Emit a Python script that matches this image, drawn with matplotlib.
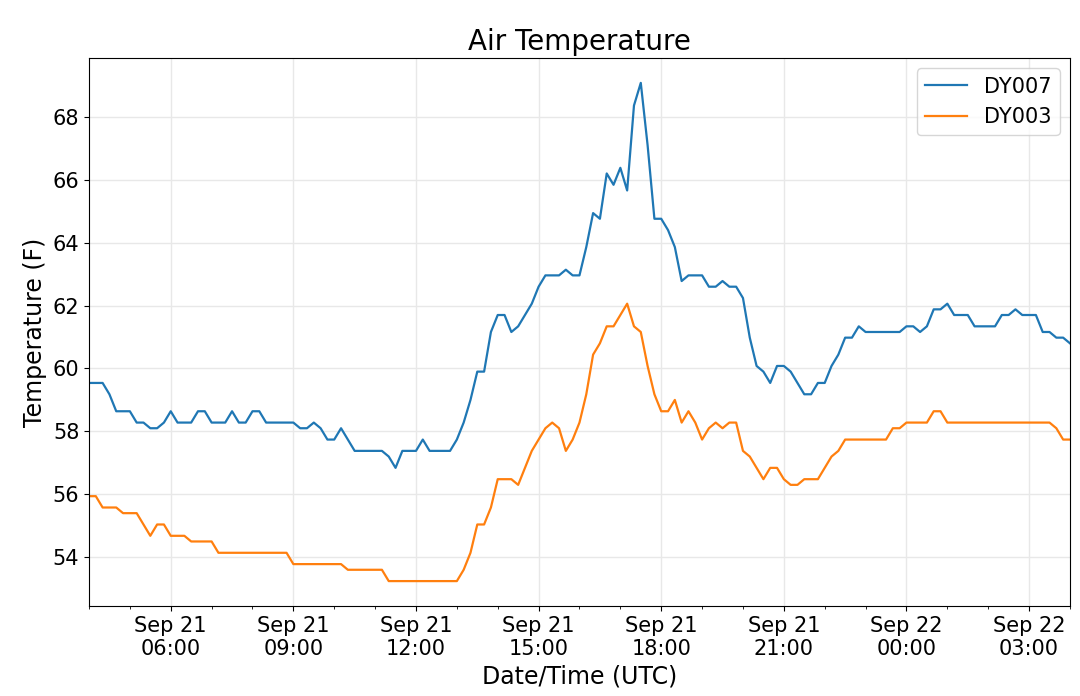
import matplotlib
matplotlib.use("Agg")
import matplotlib.pyplot as plt
import matplotlib.dates as mdates
import pandas as pd

# 10 minute readings, Sep 21 04:00 UTC .. Sep 22 04:00 UTC
times = pd.date_range("2019-09-21 04:00", periods=145, freq="10min")

dy007 = [
    59.54, 59.54, 59.54, 59.18, 58.64, 58.64, 58.64, 58.28, 58.28, 58.10,  # 0
    58.10, 58.28, 58.64, 58.28, 58.28, 58.28, 58.64, 58.64, 58.28, 58.28,  # 10
    58.28, 58.64, 58.28, 58.28, 58.64, 58.64, 58.28, 58.28, 58.28, 58.28,  # 20
    58.28, 58.10, 58.10, 58.28, 58.10, 57.74, 57.74, 58.10, 57.74, 57.38,  # 30
    57.38, 57.38, 57.38, 57.38, 57.20, 56.84, 57.38, 57.38, 57.38, 57.74,  # 40
    57.38, 57.38, 57.38, 57.38, 57.74, 58.28, 59.00, 59.90, 59.90, 61.16,  # 50
    61.70, 61.70, 61.16, 61.34, 61.70, 62.06, 62.60, 62.96, 62.96, 62.96,  # 60
    63.14, 62.96, 62.96, 63.86, 64.94, 64.76, 66.20, 65.84, 66.38, 65.66,  # 70
    68.36, 69.08, 67.10, 64.76, 64.76, 64.40, 63.86, 62.78, 62.96, 62.96,  # 80
    62.96, 62.60, 62.60, 62.78, 62.60, 62.60, 62.24, 60.98, 60.08, 59.90,  # 90
    59.54, 60.08, 60.08, 59.90, 59.54, 59.18, 59.18, 59.54, 59.54, 60.08,  # 100
    60.44, 60.98, 60.98, 61.34, 61.16, 61.16, 61.16, 61.16, 61.16, 61.16,  # 110
    61.34, 61.34, 61.16, 61.34, 61.88, 61.88, 62.06, 61.70, 61.70, 61.70,  # 120
    61.34, 61.34, 61.34, 61.34, 61.70, 61.70, 61.88, 61.70, 61.70, 61.70,  # 130
    61.16, 61.16, 60.98, 60.98, 60.80,                                      # 140
]

dy003 = [
    55.94, 55.94, 55.58, 55.58, 55.58, 55.40, 55.40, 55.40, 55.04, 54.68,  # 0
    55.04, 55.04, 54.68, 54.68, 54.68, 54.50, 54.50, 54.50, 54.50, 54.14,  # 10
    54.14, 54.14, 54.14, 54.14, 54.14, 54.14, 54.14, 54.14, 54.14, 54.14,  # 20
    53.78, 53.78, 53.78, 53.78, 53.78, 53.78, 53.78, 53.78, 53.60, 53.60,  # 30
    53.60, 53.60, 53.60, 53.60, 53.24, 53.24, 53.24, 53.24, 53.24, 53.24,  # 40
    53.24, 53.24, 53.24, 53.24, 53.24, 53.60, 54.14, 55.04, 55.04, 55.58,  # 50
    56.48, 56.48, 56.48, 56.30, 56.84, 57.38, 57.74, 58.10, 58.28, 58.10,  # 60
    57.38, 57.74, 58.28, 59.18, 60.44, 60.80, 61.34, 61.34, 61.70, 62.06,  # 70
    61.34, 61.16, 60.08, 59.18, 58.64, 58.64, 59.00, 58.28, 58.64, 58.28,  # 80
    57.74, 58.10, 58.28, 58.10, 58.28, 58.28, 57.38, 57.20, 56.84, 56.48,  # 90
    56.84, 56.84, 56.48, 56.30, 56.30, 56.48, 56.48, 56.48, 56.84, 57.20,  # 100
    57.38, 57.74, 57.74, 57.74, 57.74, 57.74, 57.74, 57.74, 58.10, 58.10,  # 110
    58.28, 58.28, 58.28, 58.28, 58.64, 58.64, 58.28, 58.28, 58.28, 58.28,  # 120
    58.28, 58.28, 58.28, 58.28, 58.28, 58.28, 58.28, 58.28, 58.28, 58.28,  # 130
    58.28, 58.28, 58.10, 57.74, 57.74,                                      # 140
]

fig = plt.figure(figsize=(10.8, 6.96), dpi=100)
ax = fig.add_axes([0.0824, 0.1293, 0.9083, 0.7874])

ax.plot(times, dy007, color="tab:blue", lw=1.6, label="DY007")
ax.plot(times, dy003, color="tab:orange", lw=1.6, label="DY003")

ax.set_xlim(times[0], times[-1])
ax.xaxis.set_major_locator(mdates.HourLocator(byhour=range(0, 24, 3)))
ax.xaxis.set_minor_locator(mdates.HourLocator())
ax.xaxis.set_major_formatter(mdates.DateFormatter("%b %d\n%H:%M"))
ax.tick_params(axis="both", which="major", labelsize=15)

ax.grid(True, which="major", color="#e8e8e8", lw=1)
ax.set_axisbelow(True)

ax.set_title("Air Temperature", fontsize=20)
ax.set_xlabel("Date/Time (UTC)", fontsize=17)
ax.set_ylabel("Temperature (F)", fontsize=17)
ax.legend(loc="upper right", fontsize=15)

fig.savefig("out.png", dpi=100)
